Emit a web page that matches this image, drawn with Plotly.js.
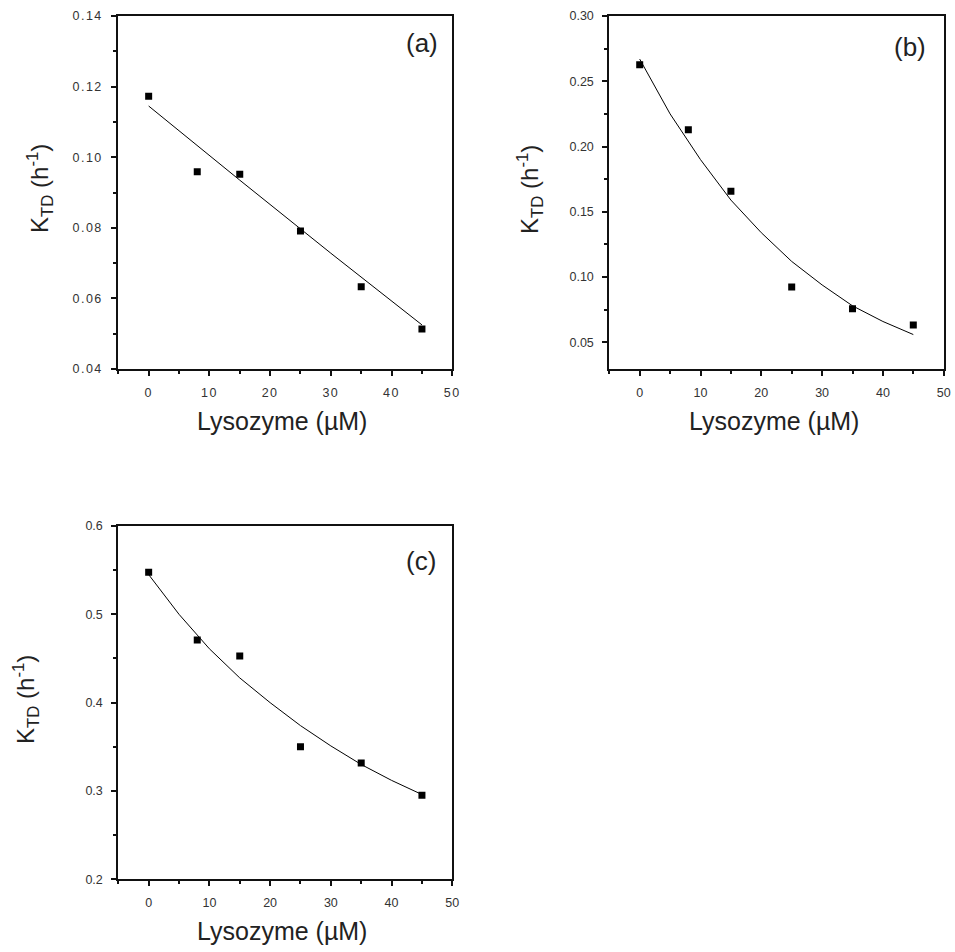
<!DOCTYPE html>
<html>
<head>
<meta charset="utf-8">
<script src="https://cdn.plot.ly/plotly-3.0.1.min.js"></script>
<style>
html, body { margin: 0; padding: 0; background: #fff; }
#chart { width: 955px; height: 952px; }
.xtick text, .ytick text { letter-spacing: 1.5px; }
</style>
</head>
<body>
<div id="chart"></div>
<script>
// ---- data ----
const lysozyme = [0, 8, 15, 25, 35, 45];
const ktdA = [0.1173, 0.0959, 0.0952, 0.0791, 0.0633, 0.0513];
const ktdB = [0.2627, 0.2129, 0.1657, 0.0924, 0.0758, 0.0633];
const ktdC = [0.5475, 0.4710, 0.4528, 0.3502, 0.3317, 0.2951];

const fitAx = [0, 15, 30, 45];
const fitAy = [0.1145, 0.0935, 0.0728, 0.0525];
const fitBx = [0, 5, 10, 15, 20, 25, 30, 35, 40, 45];
const fitBy = [0.267, 0.225, 0.190, 0.159, 0.134, 0.112, 0.094, 0.078, 0.066, 0.056];
const fitCx = [0, 5, 10, 15, 20, 25, 30, 35, 40, 45];
const fitCy = [0.545, 0.500, 0.461, 0.428, 0.400, 0.374, 0.351, 0.330, 0.312, 0.296];

const panelLabels = ['(a)', '(b)', '(c)'];
const xTitle = 'Lysozyme (µM)';
const yTitle = 'K<sub>TD</sub> (h<sup>-1</sup>)';

// ---- layout helpers ----
const W = 955, H = 952;
const px = v => v / W;
const py = v => 1 - v / H;

const markerStyle = {symbol: 'square', size: 7, color: '#000'};
const lineStyle = {color: '#000', width: 1};

const traces = [
  {x: fitAx, y: fitAy, mode: 'lines', line: lineStyle, xaxis: 'x', yaxis: 'y', hoverinfo: 'skip'},
  {x: lysozyme, y: ktdA, mode: 'markers', marker: markerStyle, xaxis: 'x', yaxis: 'y'},
  {x: fitBx, y: fitBy, mode: 'lines', line: lineStyle, xaxis: 'x2', yaxis: 'y2', hoverinfo: 'skip'},
  {x: lysozyme, y: ktdB, mode: 'markers', marker: markerStyle, xaxis: 'x2', yaxis: 'y2'},
  {x: fitCx, y: fitCy, mode: 'lines', line: lineStyle, xaxis: 'x3', yaxis: 'y3', hoverinfo: 'skip'},
  {x: lysozyme, y: ktdC, mode: 'markers', marker: markerStyle, xaxis: 'x3', yaxis: 'y3'}
];

const tickFont = {family: 'Liberation Sans, Arial, sans-serif', size: 12.5, color: '#333'};
const axColor = '#111';

function xAxis(domain, anchor) {
  return {
    domain: domain, anchor: anchor, range: [-5, 50], tick0: 0, dtick: 10,
    ticks: 'outside', ticklen: 5, tickwidth: 2, tickcolor: axColor,
    minor: {dtick: 5, tick0: 0, ticks: 'outside', ticklen: 3, tickwidth: 2, tickcolor: axColor},
    showline: true, linecolor: axColor, linewidth: 2, mirror: true,
    showgrid: false, zeroline: false, tickfont: tickFont, ticklabelstandoff: 6
  };
}
function yAxis(domain, anchor, range, dtick, minorDtick, fmt) {
  return {
    domain: domain, anchor: anchor, range: range, tick0: 0, dtick: dtick, tickformat: fmt,
    ticks: 'outside', ticklen: 5, tickwidth: 2, tickcolor: axColor,
    minor: {dtick: minorDtick, tick0: 0, ticks: 'outside', ticklen: 3, tickwidth: 2, tickcolor: axColor},
    showline: true, linecolor: axColor, linewidth: 2, mirror: true,
    showgrid: false, zeroline: false, tickfont: tickFont, ticklabelstandoff: 6
  };
}

function titleFont(size) {
  return {family: 'Liberation Sans, Arial, sans-serif', size: size, color: '#222'};
}
function ann(text, x, y, size, angle) {
  return {text: text, xref: 'paper', yref: 'paper', x: px(x), y: py(y),
          xanchor: 'center', yanchor: 'middle', showarrow: false,
          textangle: angle || 0, font: titleFont(size)};
}

const layout = {
  width: W, height: H,
  margin: {l: 0, r: 0, t: 0, b: 0},
  paper_bgcolor: '#fff', plot_bgcolor: '#fff',
  showlegend: false,
  xaxis: xAxis([px(118.3), px(452.3)], 'y'),
  yaxis: yAxis([py(369), py(16)], 'x', [0.04, 0.14], 0.02, 0.01, '.2f'),
  xaxis2: xAxis([px(609.3), px(943.7)], 'y2'),
  yaxis2: yAxis([py(369), py(16)], 'x2', [0.0296, 0.30], 0.05, 0.025, '.2f'),
  xaxis3: xAxis([px(118.3), px(452.3)], 'y3'),
  yaxis3: yAxis([py(879.3), py(526)], 'x3', [0.2, 0.6], 0.1, 0.05, '.1f'),
  annotations: [
    ann(panelLabels[0], 422, 43, 26),
    ann(panelLabels[1], 910, 47, 26),
    ann(panelLabels[2], 421, 561, 26),
    ann(xTitle, 282, 421, 25),
    ann(xTitle, 774, 421, 25),
    ann(xTitle, 282, 931, 25),
    ann(yTitle, 40, 189, 24, -90),
    ann(yTitle, 530, 190, 24, -90),
    ann(yTitle, 26, 700, 24, -90)
  ]
};

Plotly.newPlot('chart', traces, layout, {displayModeBar: false, staticPlot: true});
</script>
</body>
</html>
